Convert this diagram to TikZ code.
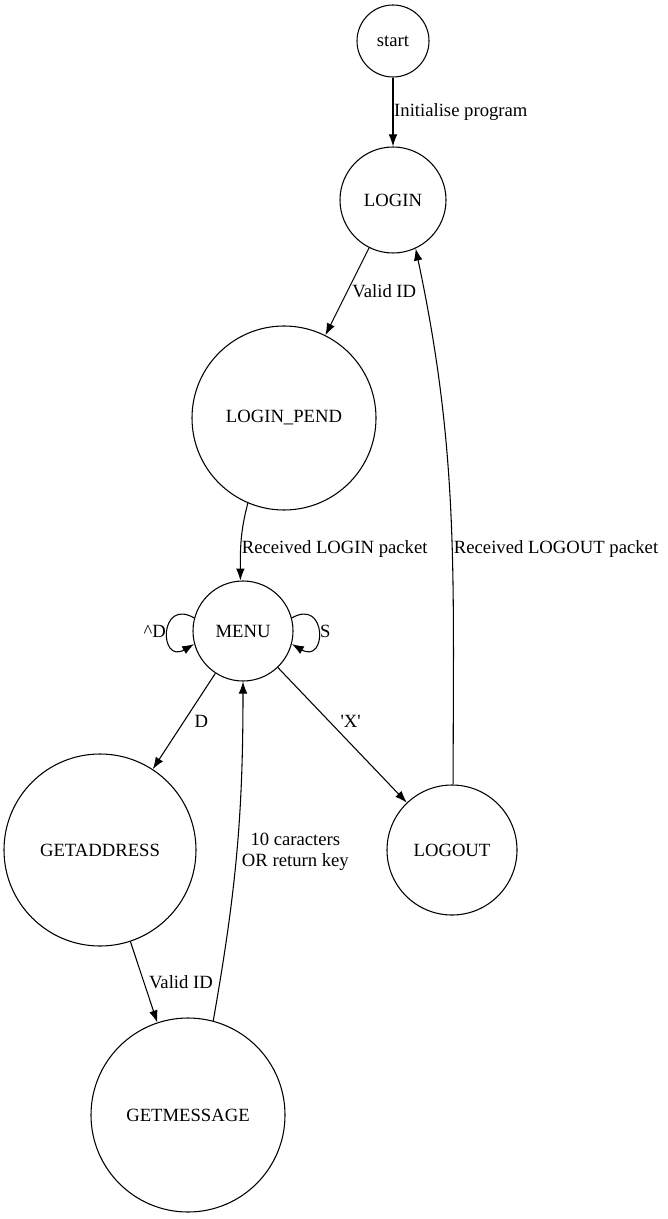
\documentclass[tikz,border=0pt]{standalone}
\usepackage{fontspec}
\setmainfont{Liberation Serif}
\usepackage {tikz}
\usetikzlibrary {positioning}
\usetikzlibrary{arrows.meta}
\tikzset{edge/.style = {->,> = {Latex[length=9pt,width=6.5pt]}}}

\begin{document}
\begin{tikzpicture}[x=0.75pt,y=0.75pt,thick,font=\fontsize{14}{16}\selectfont,
        main node/.style={circle,draw,inner sep=0pt},
        lbl/.style={inner sep=1.5pt}]
            \useasboundingbox (0,0) rectangle (667,-1219);
            \node[main node,minimum size=54pt] (start) at (393,-41) {start};
            \node[main node,minimum size=79.5pt] (login) at (393,-200) {LOGIN};
            \node[main node,minimum size=138pt] (pend) at (284,-418) {LOGIN\_PEND};
            \node[main node,minimum size=75pt] (menu) at (243,-631) {MENU};
            \node[main node,minimum size=144pt] (addr) at (100,-850) {GETADDRESS};
            \node[main node,minimum size=97.5pt] (logout) at (452,-850) {LOGOUT};
            \node[main node,minimum size=145.5pt] (msg) at (188,-1115) {GETMESSAGE};
            \draw[edge] (start) to node[pos=0.5,anchor=west,inner sep=0.5pt] {Initialise program} (login);
            \draw[edge] (login) to node[midway,right=2pt,lbl] {Valid ID} (pend);
            \draw[edge] (pend.247) to[out=255,in=90] node[pos=0.6,anchor=west,inner sep=0.5pt] {Received LOGIN packet} (menu.93);
            \draw[edge] (menu.165) to[out=150,in=210,looseness=4] node[left,inner sep=1pt] {\textasciicircum D} (menu.195);
            \draw[edge] (menu.15) to[out=30,in=-30,looseness=4] node[right,inner sep=1pt] {S} (menu.-15);
            \draw[edge] (menu) to node[midway,right=6pt,lbl] {D} (addr);
            \draw[edge] (menu) to node[pos=0.4,right=6.5pt,lbl] {\textquotesingle X\textquotesingle} (logout);
            \draw[edge] (addr) to node[midway,right=2pt,lbl] {Valid ID} (msg);
            \draw[edge] (msg.75) to[out=80,in=-90] node[pos=0.5,right=2pt,lbl,align=center] {10 caracters\\OR return key} (menu.-90);
            \draw[edge] (logout.89) to[out=90,in=-78] node[pos=0.43,anchor=west,inner sep=1pt] {Received LOGOUT packet} (login.-65);
        \end{tikzpicture}
\end{document}
